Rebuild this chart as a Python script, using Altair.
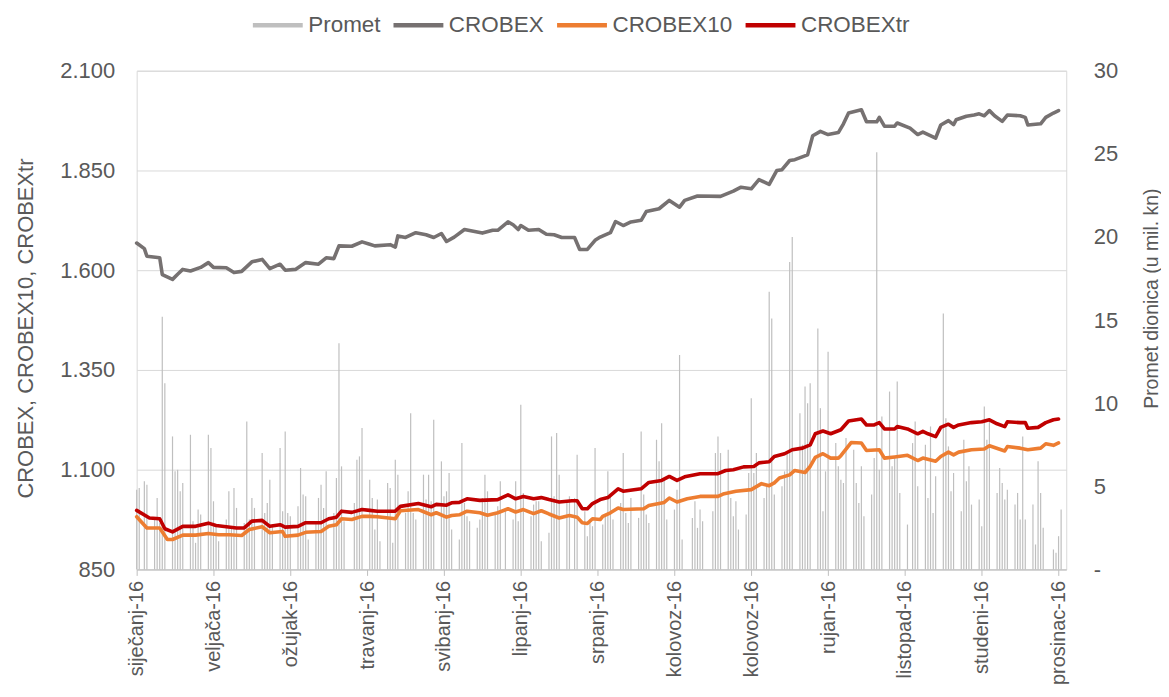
import altair as alt
import pandas as pd

# ---------------- data ----------------
month_labels = ["siječanj-16", "veljača-16", "ožujak-16", "travanj-16", "svibanj-16",
                "lipanj-16", "srpanj-16", "kolovoz-16", "kolovoz-16", "rujan-16",
                "listopad-16", "studeni-16", "prosinac-16"]

series_names = ["Promet", "CROBEX", "CROBEX10", "CROBEXtr"]
series_colors = ["#BFBFBF", "#767171", "#ED7D31", "#C00000"]

# non-trading weekdays (Zagreb Stock Exchange, 2016)
holidays = ["2016-01-06", "2016-03-28", "2016-05-26", "2016-06-22",
            "2016-08-05", "2016-08-15", "2016-11-01", "2016-12-26"]

# daily share turnover (mil. kn), one value per trading day, by month
promet_sij = [4.8, 4.9, 5.3, 5.1, 3.0, 4.3, 2.8, 15.2, 11.2, 8.0, 5.9, 6.0, 4.7, 5.2,
              8.1, 2.9, 1.6, 3.6, 3.3]
promet_velj = [8.1, 7.3, 4.1, 2.6, 1.7, 3.0, 4.7, 2.5, 4.9, 3.7, 2.8, 8.9, 3.0, 4.3,
               3.7, 7.0, 3.4, 4.0, 5.4, 2.7, 7.3]
promet_ozu = [3.5, 8.3, 3.4, 3.2, 3.8, 6.1, 4.5, 4.4, 1.8, 2.8, 4.3, 5.1, 3.7, 5.9,
              3.4, 5.5, 13.6, 6.2, 2.9, 4.0, 6.6, 6.8]
promet_tra = [8.5, 5.4, 4.3, 2.4, 4.2, 1.7, 5.2, 4.9, 1.6, 6.6, 5.7, 3.4, 4.7, 9.4,
              3.4, 3.0, 5.7, 4.2, 5.7, 4.1, 9.0]
promet_svi = [6.5, 4.4, 4.7, 5.8, 2.4, 1.8, 7.6, 4.0, 3.2, 2.9, 2.5, 3.0, 4.3, 5.7,
              4.7, 3.3, 3.8, 5.3, 3.6, 3.0, 5.3]
promet_lip = [2.9, 9.9, 4.6, 3.2, 3.9, 4.1, 4.1, 1.7, 2.2, 8.0, 4.4, 8.2, 5.7, 4.1,
              4.4, 4.3, 6.9, 3.5, 2.0, 3.0, 2.6]
promet_srp = [7.3, 2.7, 3.3, 5.9, 4.5, 3.0, 4.0, 7.0, 3.4, 2.8, 4.3, 3.1, 8.3, 4.5,
              3.3, 2.8, 7.8, 6.5, 8.8, 5.5, 3.0]
promet_kol = [3.6, 4.8, 12.9, 1.8, 3.1, 4.1, 2.5, 3.6, 2.9, 3.5, 7.0, 8.0, 7.0, 7.2,
              4.3, 3.2, 4.1, 2.4, 3.3, 5.8, 10.3]
promet_ruj = [5.8, 7.0, 4.3, 5.0, 16.7, 15.1, 4.5, 5.0, 5.9, 7.0, 18.5, 20.0, 9.4, 7.5,
              11.0, 10.0, 11.2, 14.5, 9.7, 3.5, 5.9, 13.1]
promet_lis = [7.6, 6.2, 5.4, 5.2, 7.9, 7.2, 5.2, 4.0, 6.2, 3.2, 4.5, 6.7, 25.1, 6.0,
              9.2, 10.7, 6.2, 6.7, 11.3, 4.6, 2.7]
promet_stu = [7.6, 8.9, 5.0, 7.5, 4.3, 8.6, 3.4, 5.6, 15.4, 9.1, 7.4, 4.7, 5.8, 3.5,
              7.8, 5.3, 6.2, 3.9, 4.2, 2.6, 9.8]
promet_pro = [7.8, 9.0, 4.6, 6.1, 5.2, 4.2, 4.8, 3.9, 4.6, 3.0, 8.0, 3.0, 3.9, 1.5,
              6.5, 4.6, 2.5, 1.2, 1.0, 2.0, 3.6]

# index values: (calendar days since 4 Jan 2016, index level)
crobex = [(0, 1668), (3, 1654), (4, 1635), (9, 1631), (10, 1589), (14, 1577), (16, 1590),
          (18, 1602), (21, 1598), (25, 1607), (28, 1619), (30, 1607), (35, 1606), (38, 1594),
          (41, 1597), (45, 1621), (49, 1627), (52, 1604), (56, 1615), (58, 1600), (62, 1602),
          (66, 1619), (71, 1615), (74, 1631), (77, 1629), (79, 1661), (84, 1660), (88, 1671),
          (91, 1665), (93, 1661), (99, 1664), (101, 1658), (102, 1686), (105, 1682),
          (109, 1694), (113, 1689), (116, 1682), (119, 1692), (121, 1672), (124, 1683),
          (128, 1702), (135, 1693), (139, 1700), (141, 1700), (145, 1721), (147, 1714),
          (149, 1702), (150, 1712), (153, 1700), (157, 1702), (160, 1690), (163, 1689),
          (166, 1682), (171, 1682), (173, 1652), (176, 1652), (179, 1675), (181, 1683),
          (185, 1694), (187, 1722), (190, 1712), (193, 1721), (197, 1725), (199, 1747),
          (204, 1754), (208, 1775), (212, 1758), (214, 1775), (219, 1786), (228, 1785),
          (233, 1798), (236, 1808), (240, 1804), (243, 1827), (247, 1815), (250, 1850),
          (252, 1852), (255, 1875), (257, 1877), (262, 1889), (264, 1937), (267, 1948),
          (270, 1940), (274, 1945), (276, 1967), (278, 1994), (283, 2002), (285, 1972),
          (289, 1972), (290, 1983), (292, 1961), (296, 1961), (297, 1969), (302, 1956),
          (305, 1940), (307, 1946), (312, 1931), (314, 1964), (317, 1975), (319, 1965),
          (320, 1977), (324, 1986), (327, 1989), (329, 1992), (331, 1987), (333, 2000),
          (335, 1987), (338, 1973), (340, 1989), (345, 1987), (347, 1983), (348, 1964),
          (353, 1967), (355, 1983), (358, 1994), (360, 2000)]

crobex10 = [(0, 982), (4, 954), (9, 954), (12, 925), (14, 925), (18, 936), (23, 936),
            (28, 940), (32, 937), (36, 937), (41, 935), (44, 950), (49, 957), (52, 942),
            (57, 945), (58, 933), (63, 936), (66, 943), (72, 945), (75, 958), (78, 962),
            (80, 977), (84, 975), (88, 983), (91, 983), (94, 982), (101, 977), (103, 997),
            (110, 1000), (115, 987), (117, 992), (121, 981), (123, 985), (126, 987),
            (129, 996), (134, 992), (137, 986), (141, 992), (145, 1002), (148, 994),
            (151, 1000), (155, 990), (158, 997), (161, 989), (165, 979), (169, 985),
            (172, 981), (174, 967), (176, 965), (178, 977), (181, 975), (182, 983),
            (185, 992), (188, 1004), (190, 1000), (198, 1002), (200, 1010), (206, 1018),
            (208, 1029), (211, 1019), (215, 1027), (220, 1033), (227, 1033), (229, 1039),
            (234, 1046), (240, 1050), (244, 1065), (247, 1060), (249, 1067), (251, 1079),
            (255, 1087), (257, 1098), (261, 1093), (263, 1108), (265, 1131), (268, 1140),
            (271, 1129), (274, 1129), (275, 1135), (279, 1168), (283, 1167), (285, 1148),
            (290, 1150), (292, 1129), (296, 1132), (301, 1136), (305, 1123), (307, 1129),
            (312, 1121), (314, 1133), (317, 1144), (319, 1137), (321, 1144), (326, 1150),
            (331, 1152), (333, 1160), (339, 1147), (340, 1158), (345, 1154), (348, 1150),
            (353, 1154), (355, 1165), (358, 1161), (360, 1167)]

crobextr = [(0, 998), (5, 979), (9, 977), (11, 952), (14, 944), (18, 958), (23, 958),
            (28, 966), (31, 960), (39, 954), (42, 954), (45, 971), (49, 973), (52, 958),
            (56, 962), (58, 956), (63, 958), (66, 967), (72, 967), (75, 977), (78, 981),
            (80, 996), (84, 993), (88, 1000), (91, 998), (94, 996), (101, 996), (103, 1008),
            (110, 1015), (115, 1007), (117, 1013), (121, 1011), (123, 1017), (126, 1018),
            (129, 1027), (134, 1023), (141, 1025), (145, 1037), (148, 1027), (151, 1033),
            (155, 1027), (158, 1030), (161, 1025), (165, 1019), (170, 1022), (172, 1022),
            (174, 1002), (176, 1002), (178, 1015), (181, 1025), (184, 1030), (188, 1052),
            (190, 1046), (197, 1052), (200, 1068), (205, 1073), (208, 1083), (211, 1073),
            (214, 1082), (220, 1090), (227, 1090), (230, 1098), (233, 1100), (237, 1107),
            (241, 1108), (243, 1117), (247, 1120), (249, 1133), (253, 1140), (256, 1150),
            (260, 1154), (263, 1162), (265, 1190), (268, 1197), (271, 1190), (275, 1200),
            (278, 1222), (283, 1227), (285, 1212), (288, 1212), (290, 1218), (292, 1202),
            (296, 1202), (297, 1208), (301, 1202), (305, 1190), (307, 1196), (309, 1190),
            (312, 1183), (314, 1206), (317, 1214), (319, 1206), (321, 1212), (326, 1218),
            (330, 1220), (333, 1225), (336, 1215), (339, 1208), (340, 1220), (345, 1218),
            (347, 1218), (348, 1204), (352, 1206), (355, 1218), (358, 1225), (360, 1227)]

# ---------------- tables ----------------
start = pd.Timestamp("2016-01-04")
trading_days = [d for d in pd.bdate_range("2016-01-04", "2016-12-30")
                if d.strftime("%Y-%m-%d") not in holidays]
promet = (promet_sij + promet_velj + promet_ozu + promet_tra + promet_svi + promet_lip
          + promet_srp + promet_kol + promet_ruj + promet_lis + promet_stu + promet_pro)
assert len(trading_days) == len(promet), (len(trading_days), len(promet))

bars_df = pd.DataFrame({
    "day": [(d - start).days for d in trading_days],
    "promet": promet,
    "serija": "Promet",
})

rows = []
for name, pairs in [("CROBEX", crobex), ("CROBEX10", crobex10), ("CROBEXtr", crobextr)]:
    for d, v in pairs:
        rows.append({"day": d, "value": v, "serija": name})
lines_df = pd.DataFrame(rows)

# ---------------- chart ----------------
TXT = "#595959"
FONT = "Liberation Sans"

label_array = "[" + ",".join("'" + m + "'" for m in month_labels) + "]"

x_enc = alt.X(
    "day:Q",
    scale=alt.Scale(domain=[0, 363], nice=False, zero=False),
    axis=alt.Axis(
        values=list(range(0, 361, 30)),
        labelExpr=label_array + "[round(datum.value / 30)]",
        labelAngle=270,
        labelPadding=5,
        labelFontSize=20,
        tickSize=6,
        tickColor="#BFBFBF",
        domainColor="#BFBFBF",
        grid=False,
        title=None,
        labelFlush=False,
        labelOverlap=False,
    ),
)

legend = alt.Legend(
    title=None,
    orient="none",
    legendX=114,
    legendY=-73,
    direction="horizontal",
    columns=4,
    symbolType="stroke",
    symbolSize=2500,
    symbolStrokeWidth=4.5,
    labelFontSize=22.5,
    labelColor=TXT,
    labelFont=FONT,
    labelOffset=3,
    columnPadding=3,
)

color_enc = alt.Color(
    "serija:N",
    scale=alt.Scale(domain=series_names, range=series_colors),
    legend=legend,
)

bars = alt.Chart(bars_df).mark_rule(strokeWidth=1.2).encode(
    x=x_enc,
    y=alt.Y(
        "promet:Q",
        scale=alt.Scale(domain=[0, 30], nice=False, zero=True),
        axis=alt.Axis(
            orient="right",
            values=[0, 5, 10, 15, 20, 25, 30],
            labelExpr="datum.value == 0 ? '-' : datum.label",
            grid=False,
            domain=False,
            ticks=False,
            labelPadding=27,
            title="Promet dionica (u mil. kn)",
            titleFontSize=19.5,
            titleAngle=270,
            titleBaseline="middle",
            titleX=85,
            titleY=228,
        ),
    ),
    y2=alt.datum(0),
    color=color_enc,
)

lines = alt.Chart(lines_df).mark_line(strokeWidth=3.6, strokeJoin="round", strokeCap="round").encode(
    x=x_enc,
    y=alt.Y(
        "value:Q",
        scale=alt.Scale(domain=[850, 2100], nice=False, zero=False),
        axis=alt.Axis(
            orient="left",
            values=[850, 1100, 1350, 1600, 1850, 2100],
            labelExpr="replace(format(datum.value, ','), ',', '.')",
            grid=True,
            gridColor="#D9D9D9",
            domain=False,
            ticks=False,
            labelPadding=22,
            title="CROBEX, CROBEX10, CROBEXtr",
            titleFontSize=22,
            titleAngle=270,
            titleBaseline="middle",
            titleX=-111,
            titleY=258,
        ),
    ),
    color=color_enc,
)

chart = (
    alt.layer(bars, lines)
    .resolve_scale(y="independent")
    .properties(
        width=932,
        height=500,
        padding={"left": 129, "top": 62, "right": 95, "bottom": 116},
        autosize=alt.AutoSizeParams(type="none"),
    )
    .configure(font=FONT)
    .configure_view(stroke="#D9D9D9", strokeWidth=1)
    .configure_axis(
        labelFont=FONT,
        labelFontSize=22,
        labelColor=TXT,
        titleFont=FONT,
        titleColor=TXT,
        titleFontWeight="normal",
    )
)

chart.save("out.html", embed_options={"renderer": "svg", "actions": False})
